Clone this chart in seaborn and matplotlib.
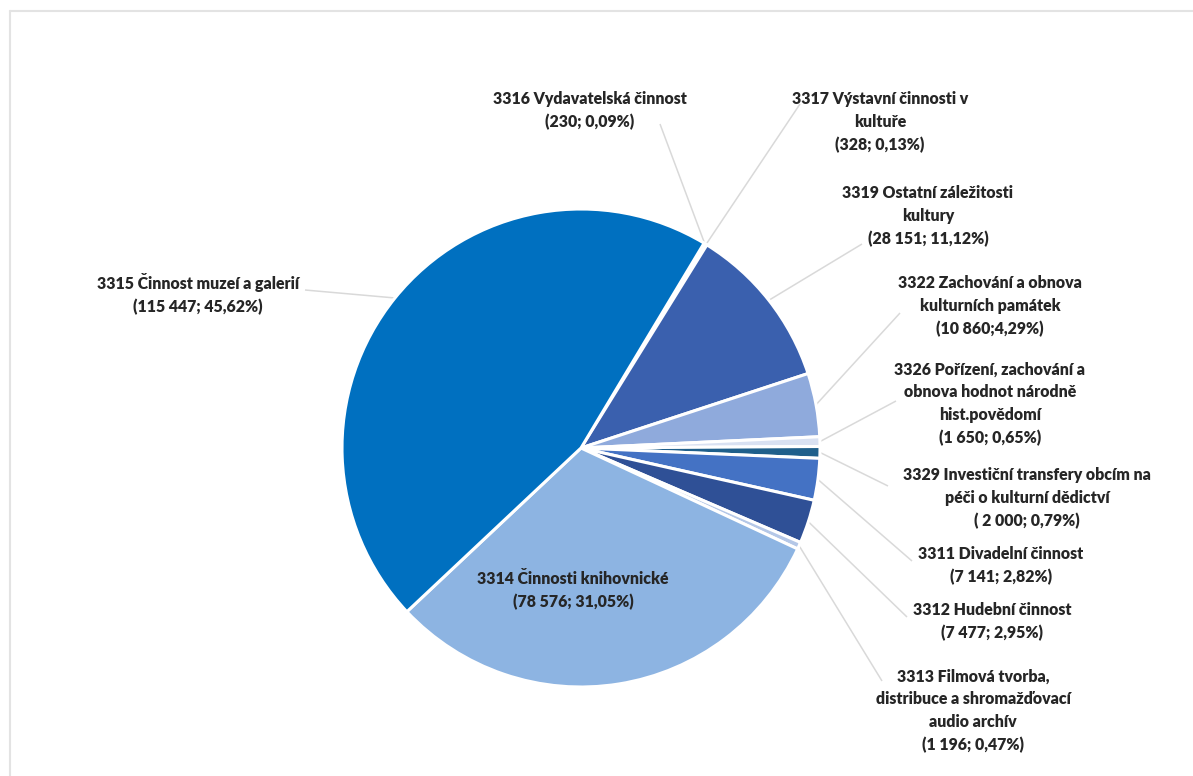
import numpy as np
import matplotlib
matplotlib.use("Agg")
import matplotlib.pyplot as plt
import seaborn as sns

# ---- data ----
codes = ["3316", "3317", "3319", "3322", "3326", "3329", "3311", "3312", "3313", "3314", "3315"]
values = [230, 328, 28151, 10860, 1650, 2000, 7141, 7477, 1196, 78576, 115447]
labels = [
    "3316 Vydavatelská činnost\n(230; 0,09%)",
    "3317 Výstavní činnosti v\nkultuře\n(328; 0,13%)",
    "3319 Ostatní záležitosti\nkultury\n(28 151; 11,12%)",
    "3322 Zachování a obnova\nkulturních památek\n(10 860;4,29%)",
    "3326 Pořízení, zachování a\nobnova hodnot národně\nhist.povědomí\n(1 650; 0,65%)",
    "3329 Investiční transfery obcím na\npéči o kulturní dědictví\n( 2 000; 0,79%)",
    "3311 Divadelní činnost\n(7 141; 2,82%)",
    "3312 Hudební činnost\n(7 477; 2,95%)",
    "3313 Filmová tvorba,\ndistribuce a shromažďovací\naudio archív\n(1 196; 0,47%)",
    "3314 Činnosti knihovnické\n(78 576; 31,05%)",
    "3315 Činnost muzeí a galerií\n(115 447; 45,62%)",
]
colors = ["#4472C4", "#2F5597", "#3A60AE", "#8FAADC", "#D9E1F2", "#1F5F8B",
          "#4472C4", "#2F5096", "#B4C7E7", "#8DB4E2", "#0070C0"]

# ---- layout (pixel coordinates, y from top) ----
text_pos = [(590, 111), (880, 122), (928, 216), (990, 306), (990, 404), (1027, 498),
            (1001, 566), (992, 622), (973, 711), (573, 591), (198, 294)]
leader_start = [(660, 124), (800, 104), (862, 244), (900, 313), (896, 401), (888, 486),
                (912, 561), (907, 617), (882, 681), None, (305, 290)]

sns.set_theme(style="white")
plt.rcParams['font.family'] = ['Lato', 'DejaVu Sans']

W, H = 1193, 776
fig = plt.figure(figsize=(W / 100, H / 100), dpi=100)
fig.patch.set_facecolor("white")
ax = fig.add_axes([0, 0, 1, 1])

cx, cy, R = 581, H - 448, 239
wedges, _ = ax.pie(values, colors=colors, startangle=59, counterclock=False,
                   center=(cx, cy), radius=R, frame=False,
                   wedgeprops=dict(edgecolor="white", linewidth=2.2))
ax.set_xlim(0, W)
ax.set_ylim(0, H)
ax.set_aspect("auto")
ax.axis("off")

# leader lines
for w, start in zip(wedges, leader_start):
    if start is None:
        continue
    th = np.deg2rad((w.theta1 + w.theta2) / 2)
    ex, ey = cx + R * np.cos(th), cy + R * np.sin(th)
    ax.plot([start[0], ex], [H - start[1], ey], color="#D9D9D9", lw=1.1,
            zorder=0, solid_capstyle="butt")

# labels
for lab, (tx, ty) in zip(labels, text_pos):
    ax.text(tx, H - ty, lab, ha="center", va="center", multialignment="center",
            fontsize=11.4, fontweight="heavy", color="#262626", linespacing=1.5)

# light frame
ax.plot([10, 10], [0, H - 11], color="#E3E3E3", lw=1.5, clip_on=False)
ax.plot([10, W], [H - 11, H - 11], color="#E3E3E3", lw=1.5, clip_on=False)

fig.savefig("out.png", dpi=100, facecolor="white")
